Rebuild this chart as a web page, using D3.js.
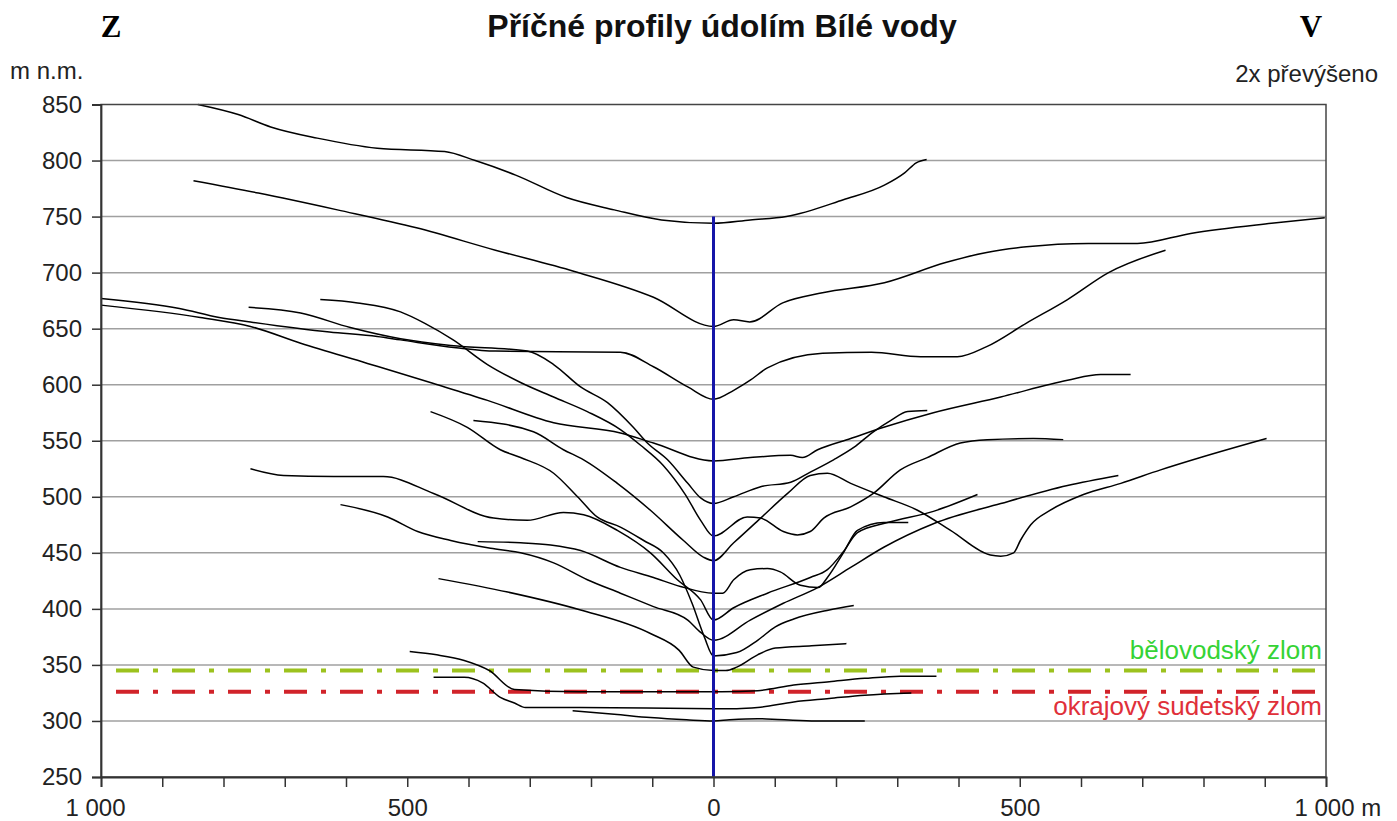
<!DOCTYPE html>
<html lang="cs">
<head>
<meta charset="UTF-8">
<title>Příčné profily údolím Bílé vody</title>
<script src="https://d3js.org/d3.v7.min.js"></script>
<style>
  body { margin: 0; background: #fff; }
  svg { display: block; font-family: "Liberation Sans", Arial, sans-serif; }
</style>
</head>
<body>
<svg id="chart" width="1397" height="821"></svg>
<script>
// each profile: [distance from valley axis in m (west negative), elevation m n.m.]
const prof745 = [[-842,850],[-776,841],[-723,830],[-647,820],[-549,811],[-439,808],[-389,800],[-323,787],[-240,767],[-162,756],[-85,747],[0,744],[60,747],[119,750],[212,765],[279,778],[312,789],[331,798],[348,801]];
const prof652 = [[-849,782],[-743,771],[-614,756],[-485,740],[-356,720],[-227,701],[-98,678],[0,652],[33,658],[59,656],[113,673],[178,682],[279,691],[379,709],[446,718],[511,723],[612,726],[692,726],[779,735],[911,744],[998,749]];
const prof587 = [[-1000,677],[-872,668],[-807,660],[-756,656],[-627,647],[-549,643],[-511,640],[-420,633],[-356,630],[-152,629],[-98,616],[-42,598],[0,587],[33,595],[60,604],[88,615],[178,628],[258,629],[338,625],[398,625],[446,634],[511,655],[578,676],[645,700],[738,720]];
const prof532 = [[-1000,671],[-838,660],[-756,652],[-674,637],[-565,619],[-457,601],[-369,586],[-261,566],[-152,557],[-98,548],[0,532],[60,535],[126,537],[145,535],[170,542],[224,552],[278,562],[359,575],[469,589],[578,604],[632,609],[681,609]];
const prof494 = [[-759,669],[-674,664],[-593,651],[-511,641],[-429,635],[-304,630],[-261,618],[-217,598],[-173,584],[-131,562],[-108,548],[-75,533],[-42,512],[-21,499],[0,494],[33,500],[77,509],[126,513],[158,522],[196,533],[229,544],[261,558],[289,568],[317,576],[349,577]];
const prof465 = [[-642,676],[-581,673],[-511,665],[-472,655],[-425,640],[-369,618],[-315,602],[-261,589],[-206,576],[-152,560],[-119,546],[-82,528],[-46,502],[-21,479],[0,465],[55,482],[77,481],[114,469],[137,466],[158,469],[180,481],[224,491],[261,503],[305,524],[349,535],[403,548],[447,551],[522,552],[571,551]];
const prof443 = [[-392,568],[-294,558],[-245,542],[-212,533],[-157,512],[-103,488],[-49,461],[-16,446],[0,443],[33,459],[77,481],[121,503],[158,519],[186,521],[224,512],[278,500],[333,488],[387,470],[452,448],[469,447],[490,450],[501,461],[518,475],[550,488],[604,502],[665,512],[730,524],[795,535],[903,552]];
const prof414 = [[-385,460],[-315,459],[-266,457],[-217,452],[-152,437],[-98,428],[-54,420],[0,414],[15,414],[33,426],[60,435],[88,436],[109,433],[142,421],[171,419],[186,428],[212,450],[235,470],[278,477],[318,477]];
const prof390 = [[-756,525],[-702,519],[-620,518],[-539,518],[-457,503],[-359,481],[-304,479],[-245,486],[-212,484],[-157,470],[-103,450],[-59,426],[-21,408],[0,390],[33,401],[88,414],[158,428],[186,435],[212,451],[235,468],[284,477],[359,487],[431,502]];
const prof372 = [[-609,493],[-532,482],[-483,469],[-429,461],[-364,454],[-315,450],[-261,441],[-206,426],[-152,414],[-98,402],[-42,390],[-21,379],[0,372],[60,390],[114,405],[170,419],[224,437],[278,455],[359,476],[469,494],[578,510],[661,519]];
const prof358 = [[-462,576],[-402,562],[-348,542],[-315,535],[-261,521],[-222,500],[-190,482],[-152,473],[-114,461],[-82,450],[-55,430],[-35,405],[-15,375],[0,358],[38,361],[72,372],[101,384],[131,391],[189,399],[229,403]];
const prof345 = [[-449,427],[-336,415],[-217,399],[-103,378],[-56,363],[-33,348],[0,345],[20,345],[38,348],[72,359],[101,365],[160,367],[217,369]];
const prof326 = [[-496,362],[-452,359],[-407,354],[-366,345],[-325,328],[-219,326],[0,326],[13,326],[72,327],[131,332],[189,335],[247,338],[305,340],[364,340]];
const prof311 = [[-457,339],[-407,339],[-377,334],[-348,321],[-325,316],[-307,312],[-219,312],[0,311],[38,311],[72,312],[131,317],[189,320],[247,323],[323,325]];
const prof300 = [[-230,309],[-162,306],[-103,303],[-44,301],[0,300],[26,301],[72,302],[160,300],[247,300]];

const profiles = [prof745, prof652, prof587, prof532, prof494, prof465, prof443,
                  prof414, prof390, prof372, prof358, prof345, prof326, prof311, prof300];

// faults
const faultNames = ["bělovodský zlom", "okrajový sudetský zlom"];
const faultElev = [345, 326];

// valley axis (blue)
const axisLine = [[0, 250], [0, 750]];

const yTicks = [250, 300, 350, 400, 450, 500, 550, 600, 650, 700, 750, 800, 850];
const xTicks = [-1000, -900, -800, -700, -600, -500, -400, -300, -200, -100, 0,
                100, 200, 300, 400, 500, 600, 700, 800, 900, 1000];
const xLabels = [-1000, -500, 0, 500, 1000];

const svg = d3.select("#chart");
const mLeft = 101, mRight = 1326, mTop = 104.5, mBottom = 777;

const x = d3.scaleLinear().domain([-1000, 1000]).range([mLeft, mRight]);
const y = d3.scaleLinear().domain([250, 850]).range([mBottom, mTop]);

// grid
svg.append("g")
    .selectAll("line")
    .data(yTicks.filter(d => d > 250 && d < 850))
    .enter().append("line")
    .attr("x1", mLeft).attr("x2", mRight)
    .attr("y1", d => y(d)).attr("y2", d => y(d))
    .attr("stroke", "#a0a0a0")
    .attr("stroke-width", 1.5);

// fault lines
const faultColors = ["#9cc21e", "#d1232a"];
const faultText = ["#35d335", "#e0303a"];
svg.append("g")
    .selectAll("line")
    .data(faultElev)
    .enter().append("line")
    .attr("x1", x(-1000)).attr("x2", x(1000))
    .attr("y1", d => y(d)).attr("y2", d => y(d))
    .attr("stroke", (d, i) => faultColors[i])
    .attr("stroke-width", 4)
    .attr("stroke-dasharray", "23,14,5,14")
    .attr("stroke-dashoffset", 41);

svg.append("g")
    .selectAll("text")
    .data(faultNames)
    .enter().append("text")
    .attr("x", mRight - 4)
    .attr("y", (d, i) => i === 0 ? y(faultElev[0]) - 12 : y(faultElev[1]) + 23)
    .attr("text-anchor", "end")
    .attr("font-size", 26)
    .attr("fill", (d, i) => faultText[i])
    .text(d => d);

// profiles
const line = d3.line()
    .x(d => x(d[0]))
    .y(d => y(d[1]))
    .curve(d3.curveMonotoneX);

svg.append("g")
    .selectAll("path")
    .data(profiles)
    .enter().append("path")
    .attr("d", line)
    .attr("fill", "none")
    .attr("stroke", "#000")
    .attr("stroke-width", 1.5);

// valley axis
svg.append("path")
    .attr("d", d3.line().x(d => x(d[0])).y(d => y(d[1]))(axisLine))
    .attr("stroke", "#1515a8")
    .attr("stroke-width", 3);

// frame
svg.append("rect")
    .attr("x", mLeft).attr("y", mTop)
    .attr("width", mRight - mLeft).attr("height", mBottom - mTop)
    .attr("fill", "none")
    .attr("stroke", "#444")
    .attr("stroke-width", 1.5);

// axes
const fmt = d => {
    const v = Math.abs(d);
    return v >= 1000 ? d3.format(",")(v).replace(",", " ") : String(v);
};

const yAxis = svg.append("g")
    .attr("transform", `translate(${mLeft},0)`)
    .call(d3.axisLeft(y).tickValues(yTicks).tickSize(9).tickPadding(10));

const xAxis = svg.append("g")
    .attr("transform", `translate(0,${mBottom})`)
    .call(d3.axisBottom(x).tickValues(xTicks).tickSize(10).tickPadding(12)
        .tickFormat(d => xLabels.includes(d) ? fmt(d) : ""));

[yAxis, xAxis].forEach(a => {
    a.select(".domain").attr("stroke", "#333").attr("stroke-width", 1.8);
    a.selectAll(".tick line").attr("stroke", "#333").attr("stroke-width", 1.5);
    a.selectAll("text")
        .attr("font-family", "Liberation Sans, Arial, sans-serif")
        .attr("font-size", 24)
        .attr("fill", "#222");
});

// first label sits a bit left, last label gets the unit
xAxis.selectAll(".tick text")
    .filter(d => d === -1000)
    .attr("x", -6);
xAxis.selectAll(".tick text")
    .filter(d => d === 1000)
    .attr("text-anchor", "start")
    .attr("x", -32)
    .text("1 000 m");

// titles
svg.append("text")
    .attr("x", 722).attr("y", 37)
    .attr("text-anchor", "middle")
    .attr("font-size", 32)
    .attr("font-weight", "bold")
    .attr("fill", "#111")
    .text("Příčné profily údolím Bílé vody");

svg.append("text")
    .attr("x", 111).attr("y", 37)
    .attr("text-anchor", "middle")
    .attr("font-family", "Liberation Serif, Times New Roman, serif")
    .attr("font-size", 31)
    .attr("font-weight", "bold")
    .text("Z");

svg.append("text")
    .attr("x", 1311).attr("y", 37)
    .attr("text-anchor", "middle")
    .attr("font-family", "Liberation Serif, Times New Roman, serif")
    .attr("font-size", 31)
    .attr("font-weight", "bold")
    .text("V");

svg.append("text")
    .attr("x", 10).attr("y", 79)
    .attr("font-size", 24)
    .attr("fill", "#222")
    .text("m n.m.");

svg.append("text")
    .attr("x", 1378).attr("y", 82)
    .attr("text-anchor", "end")
    .attr("font-size", 24)
    .attr("fill", "#222")
    .text("2x převýšeno");
</script>
</body>
</html>
